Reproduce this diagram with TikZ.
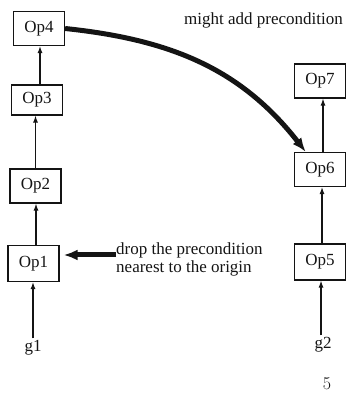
\documentclass[tikz,border=0pt]{standalone}
\usepackage{fontspec}
\setmainfont{Liberation Serif}
\newfontfamily\pagefont{Latin Modern Roman}
\usetikzlibrary{arrows.meta}
\definecolor{InkBlack}{HTML}{141414}

\tikzset{
  opbox/.style={draw=InkBlack, line width=1.2pt, minimum width=51pt,
    minimum height=34pt, inner sep=2pt, text=InkBlack,
    font=\fontsize{17}{18}\selectfont},
  goal/.style={inner sep=2pt, text=InkBlack, font=\fontsize{17}{18}\selectfont},
  note/.style={inner sep=0pt, text=InkBlack, align=left,
    font=\fontsize{17}{18}\selectfont},
  link/.style={InkBlack, line width=1.1pt, -{Latex[length=7pt,width=5pt]}},
  bigarrow/.style={InkBlack, line width=5pt, -{Latex[length=14pt,width=11pt]}},
}

\begin{document}
\begin{tikzpicture}[x=1pt, y=1pt]
    \useasboundingbox (0,0) rectangle (346,395);
    % left chain
    \node[opbox] (op4) at (39,366.5) {Op4};
    \node[opbox, minimum height=30pt] (op3) at (37,295) {Op3};
    \node[opbox] (op2) at (35.5,209) {Op2};
    \node[opbox, minimum height=36pt] (op1) at (33.5,131.5) {Op1};
    \node[goal] (g1) at (33,47) {g1};
    % right chain
    \node[opbox] (op7) at (320,314) {Op7};
    \node[opbox] (op6) at (320,225.5) {Op6};
    \node[opbox, minimum height=36pt] (op5) at (320,133) {Op5};
    \node[goal] (g2) at (323,50) {g2};
    % notes
    \node[note, anchor=east] (might) at (343,375) {might add precondition};
    \node[note, anchor=west] (drop) at (116,136)
    {drop the precondition\\nearest to the origin};
    \coordinate (dropend) at (116,140);
    \node[inner sep=0pt, text=InkBlack, font=\pagefont\fontsize{18}{20}\selectfont]
    (page) at (327,11) {5};
    % arrows
    \draw[link] (g1.north) -- (g1.north |- op1.south);
    \draw[link] (op1.north -| 36,0) -- (op2.south -| 36,0);
    \draw[link] (op2.north) -- (op2.north |- op3.south);
    \draw[link] (op3.north -| 40,0) -- (op4.south -| 40,0);
    \draw[link] (g2.north -| 321,0) -- (op5.south -| 321,0);
    \draw[link] (op5.north -| 322,0) -- (op6.south -| 322,0);
    \draw[link] (op6.north -| 323,0) -- (op7.south -| 323,0);
    % big arrows
    \draw[bigarrow, shorten >=4pt] (dropend) -- (dropend -| op1.east);
    \draw[bigarrow] (op4.east) to[out=-6, in=128] (op6.129);
\end{tikzpicture}
\end{document}
